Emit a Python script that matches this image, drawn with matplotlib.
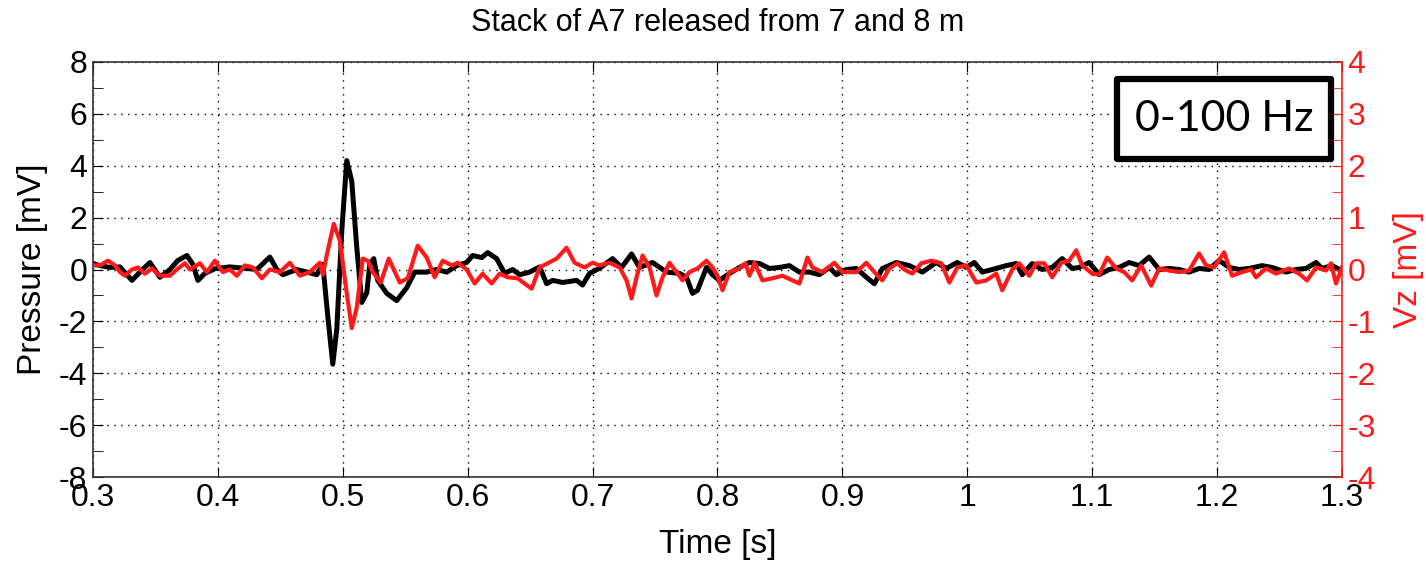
import matplotlib
matplotlib.use("Agg")
import matplotlib.pyplot as plt
from matplotlib.patches import Rectangle
from matplotlib.ticker import MultipleLocator

plt.rcParams['font.family'] = ['Liberation Sans', 'DejaVu Sans']
plt.rcParams['axes.unicode_minus'] = False

# Stacked pressure trace (left axis, mV)
time_p = [0.300, 0.3056, 0.3136, 0.3216, 0.3312, 0.3376, 0.3456, 0.3536, 0.3616, 0.368,
          0.3752, 0.380, 0.384, 0.3896, 0.3976, 0.4096, 0.4232, 0.4312, 0.4416, 0.4472,
          0.452, 0.4632, 0.4792, 0.484, 0.488, 0.492, 0.4952, 0.4992, 0.5032, 0.5072,
          0.5112, 0.5152, 0.5192, 0.5216, 0.5248, 0.528, 0.5352, 0.5432, 0.5512, 0.5576,
          0.5672, 0.5752, 0.5832, 0.5912, 0.5992, 0.604, 0.6112, 0.616, 0.6232, 0.6296,
          0.636, 0.6416, 0.6496, 0.6576, 0.6632, 0.668, 0.676, 0.6872, 0.692, 0.6976,
          0.7056, 0.716, 0.7232, 0.7312, 0.7376, 0.748, 0.7592, 0.7696, 0.7752, 0.780,
          0.784, 0.7912, 0.796, 0.8016, 0.8096, 0.8176, 0.8256, 0.8336, 0.8416, 0.8496,
          0.8576, 0.8656, 0.8736, 0.8816, 0.8896, 0.8952, 0.9032, 0.9112, 0.9192, 0.9256,
          0.932, 0.9432, 0.9536, 0.964, 0.9752, 0.9832, 0.992, 0.9992, 1.0056, 1.012,
          1.020, 1.0312, 1.0392, 1.044, 1.052, 1.060, 1.068, 1.076, 1.084, 1.0896,
          1.0976, 1.1056, 1.1136, 1.1216, 1.1296, 1.1376, 1.1456, 1.1536, 1.1616, 1.1696,
          1.1776, 1.1856, 1.1936, 1.2016, 1.2096, 1.2176, 1.2256, 1.236, 1.244, 1.2552,
          1.2632, 1.2712, 1.2792, 1.284, 1.292, 1.300]
pressure = [0.23, 0.15, 0.08, 0.10, -0.42, -0.10, 0.27, -0.30, 0.00, 0.35,
            0.54, 0.20, -0.42, -0.15, 0.03, 0.10, 0.04, 0.00, 0.48, 0.00,
            -0.20, 0.00, -0.20, 0.20, -1.80, -3.65, -2.30, 1.50, 4.20, 3.40,
            0.85, -1.27, -0.90, 0.20, 0.42, -0.42, -0.92, -1.20, -0.70, -0.10,
            -0.10, 0.00, -0.10, 0.15, 0.27, 0.54, 0.46, 0.65, 0.42, -0.15,
            0.00, -0.20, -0.10, 0.10, -0.55, -0.42, -0.50, -0.42, -0.60, -0.15,
            0.05, 0.42, 0.08, 0.60, 0.08, 0.27, -0.10, -0.15, -0.30, -0.92,
            -0.80, 0.08, -0.20, -0.42, -0.15, 0.08, 0.27, 0.23, 0.04, 0.08,
            0.15, -0.10, -0.10, -0.20, 0.08, -0.20, 0.00, 0.04, -0.30, -0.55,
            0.04, 0.27, 0.15, -0.10, 0.27, 0.04, 0.27, 0.08, 0.27, -0.10,
            0.00, 0.15, 0.23, -0.20, 0.23, 0.00, 0.08, 0.42, 0.04, 0.08,
            0.27, -0.20, 0.00, 0.08, 0.27, 0.15, 0.48, 0.00, 0.04, 0.00,
            -0.10, 0.04, 0.00, 0.35, 0.08, 0.00, 0.04, 0.15, 0.08, -0.10,
            0.00, 0.04, 0.27, 0.04, 0.15, -0.05]

# Stacked vertical geophone trace (right axis, mV)
time_v = [0.300, 0.3056, 0.312, 0.3176, 0.3216, 0.3256, 0.3312, 0.336, 0.3416, 0.3472,
          0.3536, 0.3616, 0.368, 0.3736, 0.3776, 0.3856, 0.3912, 0.3976, 0.404, 0.4096,
          0.4152, 0.4216, 0.428, 0.4352, 0.4416, 0.4496, 0.4576, 0.4656, 0.4736, 0.4816,
          0.484, 0.488, 0.4928, 0.4976, 0.5032, 0.5072, 0.5112, 0.516, 0.520, 0.524,
          0.5304, 0.5368, 0.5456, 0.552, 0.560, 0.5672, 0.5736, 0.580, 0.5872, 0.592,
          0.5992, 0.6056, 0.612, 0.6192, 0.6256, 0.632, 0.640, 0.6512, 0.6576, 0.664,
          0.6712, 0.6792, 0.6856, 0.6936, 0.700, 0.7056, 0.7136, 0.7216, 0.7272, 0.7312,
          0.7352, 0.740, 0.7456, 0.7512, 0.756, 0.7616, 0.7672, 0.772, 0.7776, 0.784,
          0.7912, 0.796, 0.800, 0.804, 0.8096, 0.8176, 0.8224, 0.8256, 0.8296, 0.836,
          0.844, 0.852, 0.860, 0.8656, 0.872, 0.876, 0.884, 0.8936, 0.900, 0.9112,
          0.9192, 0.9256, 0.9296, 0.932, 0.9376, 0.944, 0.9496, 0.956, 0.9632, 0.9712,
          0.9792, 0.9856, 0.992, 0.9992, 1.0072, 1.0152, 1.0232, 1.028, 1.036, 1.0416,
          1.0496, 1.0552, 1.0616, 1.068, 1.0752, 1.0816, 1.0872, 1.092, 1.100, 1.1056,
          1.112, 1.1192, 1.1256, 1.132, 1.1392, 1.1472, 1.1536, 1.1616, 1.1696, 1.1776,
          1.1856, 1.1912, 1.1976, 1.2056, 1.212, 1.220, 1.2272, 1.2312, 1.2392, 1.2472,
          1.2576, 1.2656, 1.272, 1.2792, 1.2872, 1.2912, 1.2952, 1.300]
vz = [0.08, 0.08, 0.17, 0.08, -0.05, -0.12, 0.00, 0.04, -0.08, 0.02,
      -0.12, -0.12, 0.02, 0.12, 0.00, 0.12, -0.05, 0.17, -0.05, 0.00,
      -0.12, 0.08, 0.04, -0.17, 0.00, -0.05, 0.13, -0.12, -0.05, 0.13,
      -0.10, 0.37, 0.88, 0.56, -0.46, -1.13, -0.73, 0.21, 0.17, -0.05,
      -0.25, 0.21, -0.25, -0.17, 0.46, 0.23, -0.15, 0.17, 0.08, 0.13,
      0.00, -0.27, -0.08, -0.27, -0.08, -0.15, -0.17, -0.37, 0.04, 0.12,
      0.21, 0.42, 0.13, 0.04, 0.13, 0.08, 0.13, 0.04, -0.21, -0.56,
      -0.15, 0.27, 0.04, -0.50, -0.15, 0.13, -0.05, -0.21, -0.05, 0.02,
      0.17, 0.04, -0.12, -0.40, -0.05, 0.02, 0.12, -0.12, 0.13, -0.21,
      -0.17, -0.12, -0.21, -0.27, 0.23, 0.04, -0.05, 0.13, -0.05, -0.05,
      0.13, -0.05, -0.15, -0.21, 0.02, 0.12, 0.00, -0.08, 0.12, 0.17,
      0.12, -0.25, 0.04, 0.08, -0.25, -0.21, -0.08, -0.40, 0.00, 0.12,
      -0.12, 0.12, 0.12, -0.15, 0.13, 0.17, 0.37, 0.08, -0.08, -0.10,
      0.23, 0.02, -0.05, -0.21, 0.08, -0.31, 0.02, -0.02, -0.05, -0.02,
      0.31, 0.08, 0.04, 0.33, -0.12, -0.05, 0.00, -0.15, 0.02, -0.08,
      0.02, -0.08, -0.21, 0.04, -0.02, 0.12, -0.27, 0.04]

x_ticks = [0.3, 0.4, 0.5, 0.6, 0.7, 0.8, 0.9, 1.0, 1.1, 1.2, 1.3]
x_tick_labels = ['0.3', '0.4', '0.5', '0.6', '0.7', '0.8', '0.9', '1', '1.1', '1.2', '1.3']
p_ticks = [-8, -6, -4, -2, 0, 2, 4, 6, 8]
v_ticks = [-4, -3, -2, -1, 0, 1, 2, 3, 4]

title_text = 'Stack of A7 released from 7 and 8 m'
band_text = '0-100 Hz'

RED = '#ff1a1a'
TICK_FS = 23
LABEL_FS = 24

fig = plt.figure(figsize=(14.26, 5.66), dpi=100)
ax = fig.add_axes([0.0652, 0.1572, 0.8759, 0.7333])

ax.plot(time_p, pressure, color='black', lw=3.6, solid_joinstyle='round')
ax.set_xlim(0.3, 1.3)
ax.set_ylim(-8, 8)
ax.set_xticks(x_ticks)
ax.set_xticklabels(x_tick_labels)
ax.set_yticks(p_ticks)
ax.yaxis.set_minor_locator(MultipleLocator(1))
ax.grid(True, which='major', color='black', linestyle=(0, (1, 4)), linewidth=1.0)
ax.tick_params(axis='both', which='both', direction='in', labelsize=TICK_FS,
               colors='black', pad=4)
ax.tick_params(axis='x', which='both', top=True, length=7)
ax.tick_params(axis='y', which='both', length=7)
for side in ('left', 'bottom', 'top'):
    ax.spines[side].set_color('#333333')
    ax.spines[side].set_linewidth(1.2)
ax.spines['right'].set_visible(False)
ax.set_xlabel('Time [s]', fontsize=LABEL_FS, labelpad=12)
ax.set_ylabel('Pressure [mV]', fontsize=LABEL_FS, labelpad=8)
ax.set_title(title_text, fontsize=22, pad=22)

ax2 = ax.twinx()
ax2.plot(time_v, vz, color=RED, lw=3.0, solid_joinstyle='round')
ax2.set_ylim(-4, 4)
ax2.set_yticks(v_ticks)
ax2.yaxis.set_minor_locator(MultipleLocator(0.5))
ax2.tick_params(axis='y', which='both', direction='in', length=7, colors=RED,
                labelsize=TICK_FS, pad=4)
ax2.spines['right'].set_color(RED)
ax2.spines['right'].set_linewidth(1.2)
for side in ('left', 'bottom', 'top'):
    ax2.spines[side].set_visible(False)
ax2.set_ylabel('Vz [mV]', fontsize=LABEL_FS, color=RED, labelpad=12)

# Frequency band box in the upper right corner
fig.patches.append(Rectangle((0.7833, 0.7191), 0.1501, 0.1413, transform=fig.transFigure,
                             facecolor='white', edgecolor='black', linewidth=4.5,
                             joinstyle='round', zorder=10))
fig.text(0.8583, 0.7898, band_text, ha='center', va='center', fontsize=31,
         family=['Lato', 'DejaVu Sans'], zorder=11)

fig.savefig('out.png', dpi=100)
